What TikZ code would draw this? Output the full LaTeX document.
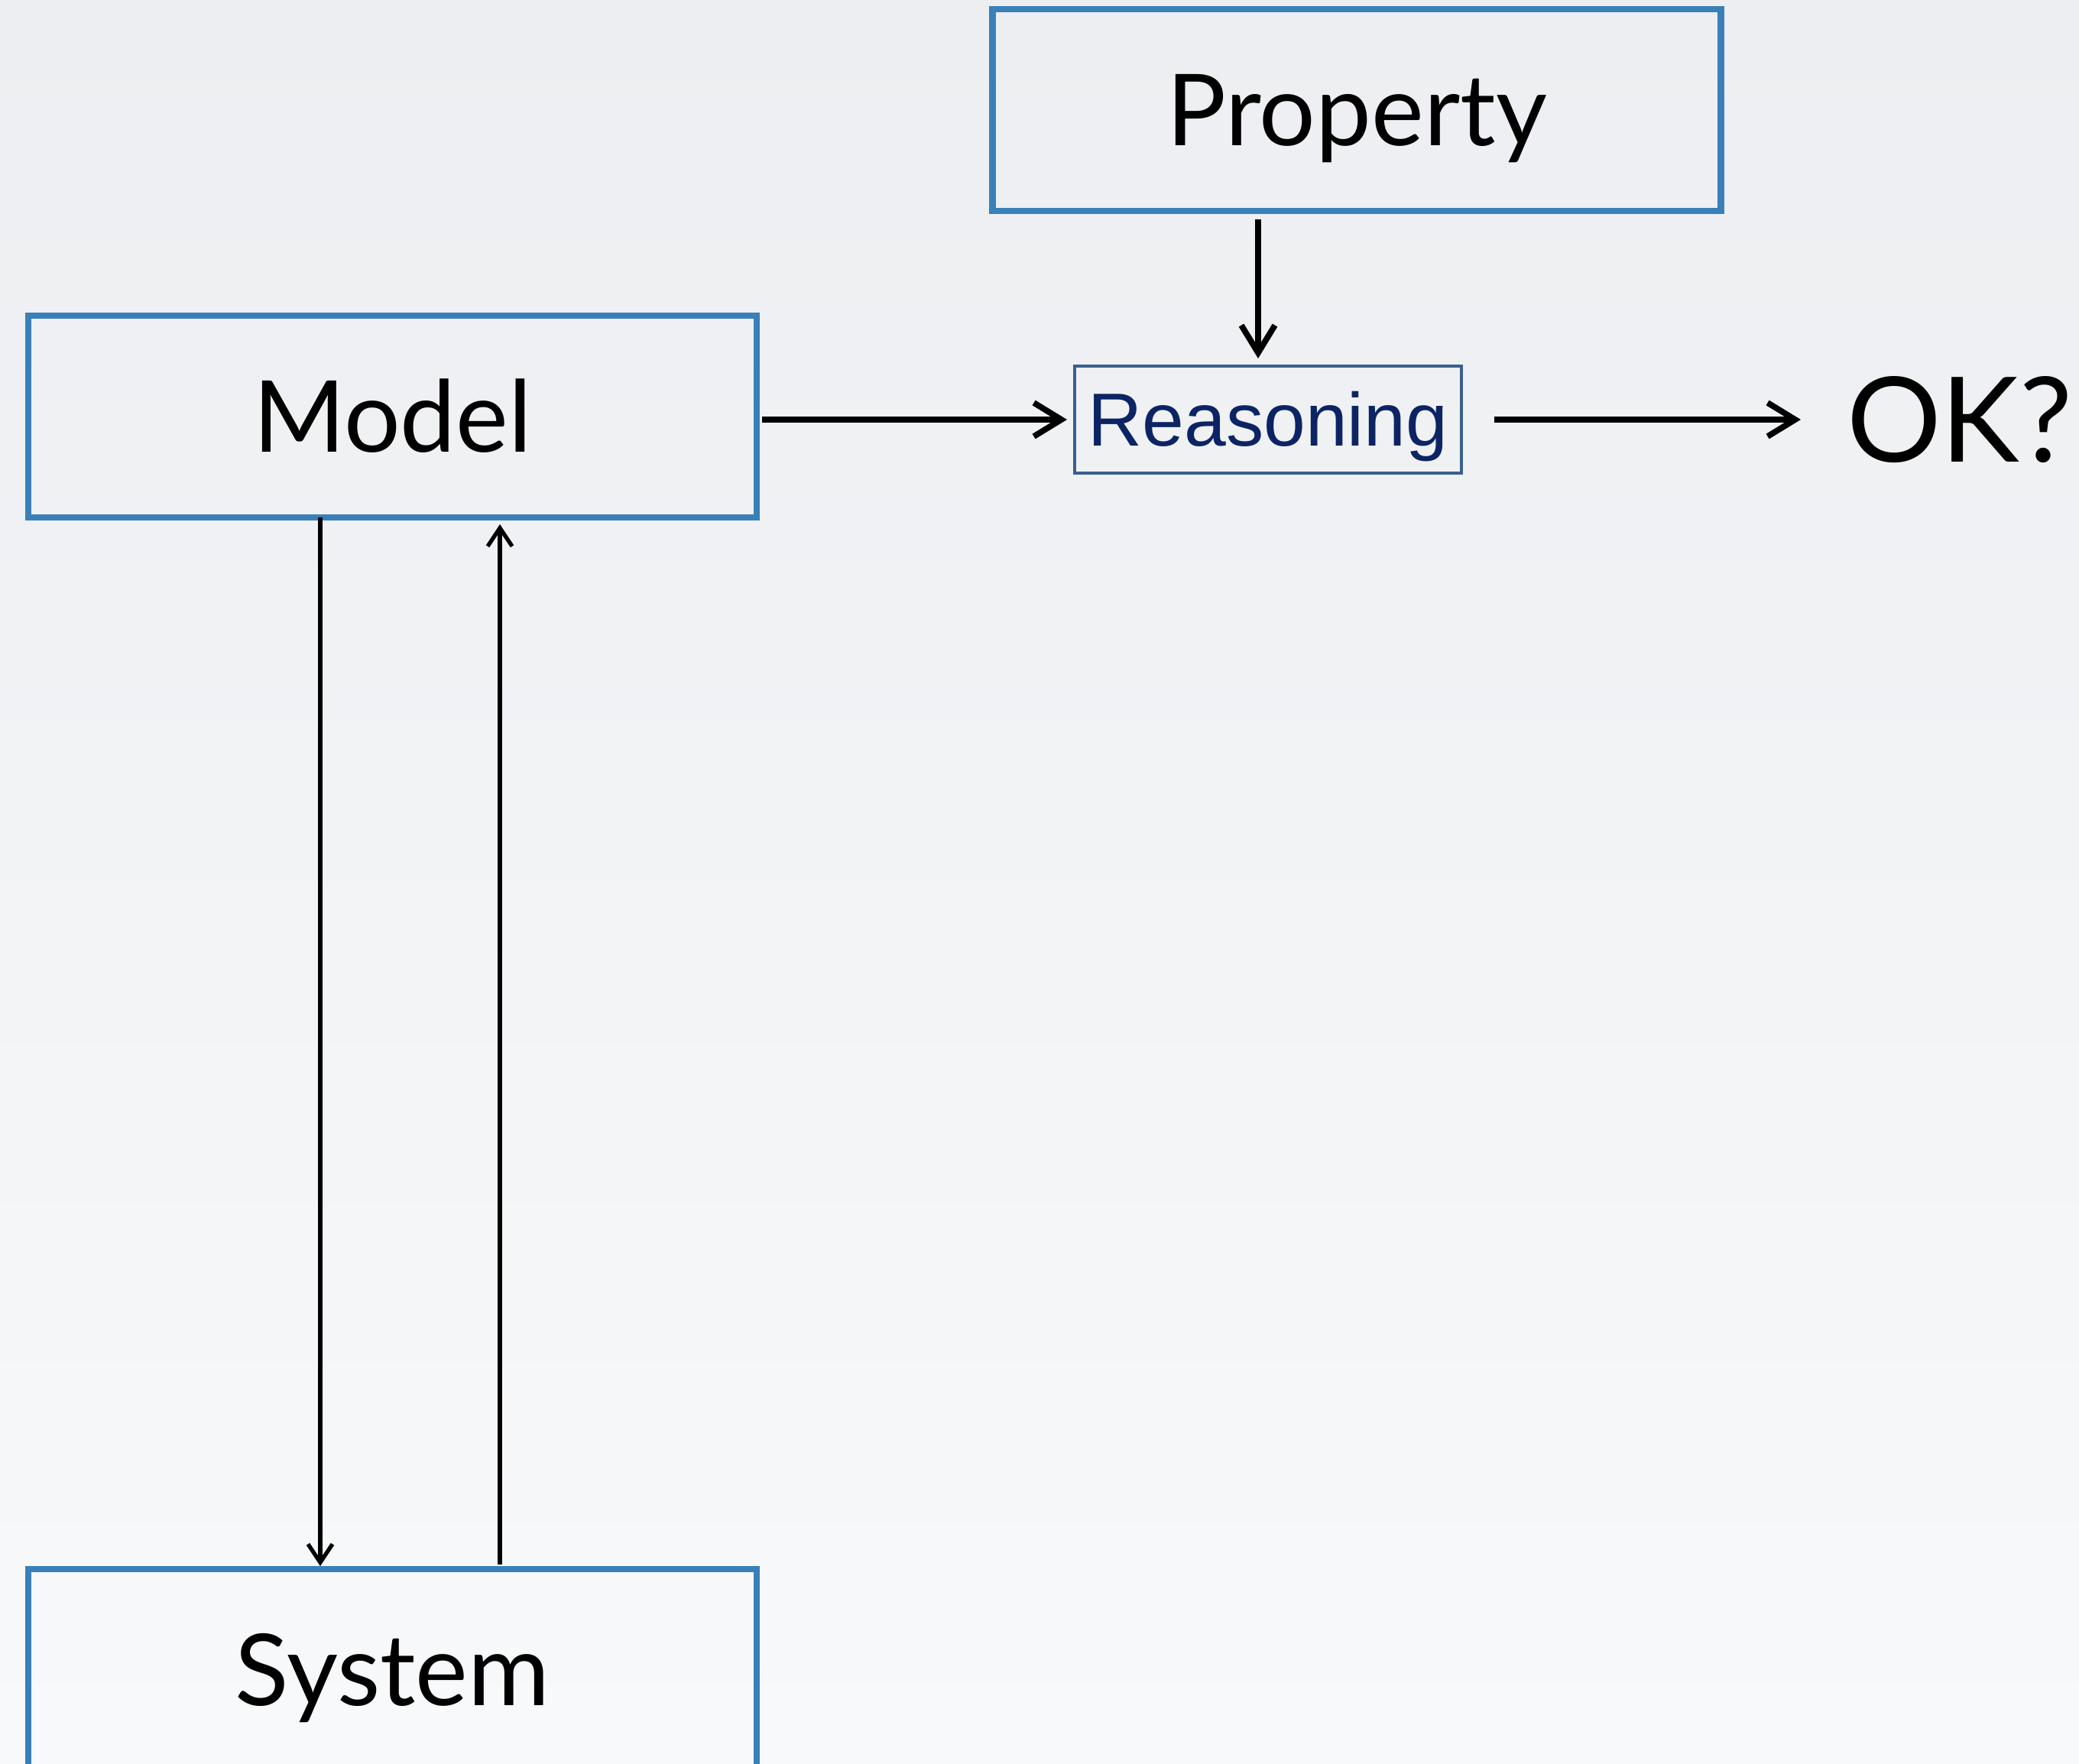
\documentclass[tikz,border=0pt]{standalone}
\usepackage{fontspec}
\setmainfont{Lato}
\newfontfamily\arialfont{Liberation Sans}
\usetikzlibrary{arrows.meta,positioning}
\definecolor{boxblue}{RGB}{58,128,184}
\definecolor{reasonblue}{RGB}{58,95,143}
\definecolor{reasontext}{RGB}{12,36,100}
\definecolor{bgtop}{RGB}{236,238,241}
\definecolor{bgbot}{RGB}{248,249,250}
\tikzset{
  blk/.style={rectangle,draw=boxblue,line width=2.3pt,outer sep=0pt,
              minimum width=9.53cm,minimum height=2.64cm,
              font=\fontsize{37}{37}\selectfont,text height=0.93cm,text depth=0pt},
  smallblk/.style={rectangle,draw=reasonblue,line width=1.3pt,outer sep=0pt,
              minimum width=5.06cm,minimum height=1.40cm,text=reasontext,
              font=\arialfont\fontsize{28}{28}\selectfont,text height=0.70cm,text depth=0pt},
  flowarrow/.style={-{Straight Barb[length=3.6mm,width=4.4mm]},line width=2.2pt},
  longarrow/.style={-{Straight Barb[length=2.4mm,width=3.2mm]},line width=1.5pt}
}

\begin{document}
\begin{tikzpicture}[node distance=2cm]
  \useasboundingbox (0,0) rectangle (27.2,-23.07);
  \clip (0,0) rectangle (27.2,-23.07);
  \fill[top color=bgtop,bottom color=bgbot] (0,0) rectangle (27.2,-23.07);

  \node[blk] (model) at (5.135,-5.45) {Model};
  \node[smallblk, right=4.16cm of model, yshift=-0.04cm] (reasoning) {Reasoning};
  \node[blk, above=2.03cm of reasoning, xshift=1.16cm] (property) {Property};
  \node[right=5.04cm of reasoning, inner sep=0pt, outer sep=0pt,
        font=\fontsize{44}{44}\selectfont, text height=1.11cm, text depth=0pt] (ok) {OK?};
  \node[blk, below=13.76cm of model] (system) {System};

  % Property into reasoning
  \coordinate (pin) at ([xshift=-0.13cm]reasoning.north);
  \draw[flowarrow, shorten <=0.11cm, shorten >=0.10cm] (property.south -| pin) -- (pin);
  \draw[flowarrow, shorten <=0.07cm, shorten >=0.10cm] (reasoning.west -| model.east) -- (reasoning.west);
  \draw[flowarrow, shorten <=0.43cm, shorten >=0.60cm] (reasoning.east) -- (ok.west |- reasoning.east);

  % Model and system
  \draw[longarrow, shorten >=0.04cm] ([xshift=-0.945cm]model.south) -- ([xshift=-0.945cm]system.north);
  \draw[longarrow, shorten <=0.06cm, shorten >=0.09cm] ([xshift=1.405cm]system.north) -- ([xshift=1.405cm]model.south);
\end{tikzpicture}
\end{document}
